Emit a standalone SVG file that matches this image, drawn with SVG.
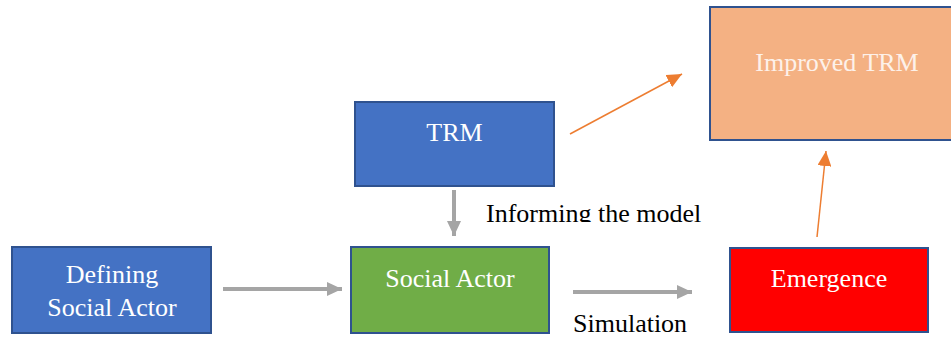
<svg xmlns="http://www.w3.org/2000/svg" width="951" height="337" viewBox="0 0 951 337">
<style>
.box{stroke:#2f528f;stroke-width:2}
.t{font-family:'Liberation Serif','Times New Roman',Times,'DejaVu Serif',serif;font-size:26px;fill:#ffffff;text-anchor:middle}
.lbl{font-family:'Liberation Serif','Times New Roman',Times,'DejaVu Serif',serif;font-size:26px;fill:#000000}
.gray{stroke:#a5a5a5;stroke-width:4;fill:none}
.orange{stroke:#ed7d31;stroke-width:1.5;fill:none}
</style>
<defs>
<marker id="ga" markerUnits="userSpaceOnUse" markerWidth="16" markerHeight="16" refX="15" refY="8" orient="auto">
<path d="M0,1 L15,8 L0,15 Z" fill="#a5a5a5"/>
</marker>
<marker id="oa" markerUnits="userSpaceOnUse" markerWidth="16" markerHeight="14" refX="15" refY="7" orient="auto">
<path d="M0,0 L15,7 L0,14 Z" fill="#ed7d31"/>
</marker>
<clipPath id="clipInf"><rect x="480" y="190" width="240" height="32"/></clipPath>
</defs>
<rect width="951" height="337" fill="#ffffff"/>
<g id="connectors">
<line class="gray" x1="223" y1="289" x2="342" y2="289" marker-end="url(#ga)"/>
<line class="gray" x1="454" y1="190" x2="454" y2="236" marker-end="url(#ga)"/>
<line class="gray" x1="573" y1="292" x2="692" y2="292" marker-end="url(#ga)"/>
<line class="orange" x1="570" y1="134" x2="682" y2="74" marker-end="url(#oa)"/>
<line class="orange" x1="817" y1="237" x2="826" y2="151" marker-end="url(#oa)"/>
<text class="lbl" x="486" y="222" clip-path="url(#clipInf)">Informing the model</text>
<text class="lbl" x="573" y="332">Simulation</text>
</g>
<g id="node-defining">
<rect class="box" x="12" y="247" width="199" height="86" fill="#4472c4"/>
<text class="t" x="112" y="283">Defining</text>
<text class="t" x="112" y="316">Social Actor</text>
</g>
<g id="node-trm">
<rect class="box" x="355" y="102" width="199" height="84" fill="#4472c4"/>
<text class="t" x="454.5" y="141">TRM</text>
</g>
<g id="node-social-actor">
<rect class="box" x="351" y="247" width="198" height="86" fill="#70ad47"/>
<text class="t" x="450" y="287">Social Actor</text>
</g>
<g id="node-emergence">
<rect class="box" x="730" y="248" width="198" height="84" fill="#ff0000"/>
<text class="t" x="829" y="287">Emergence</text>
</g>
<g id="node-improved-trm">
<rect class="box" x="710" y="7" width="254" height="133" fill="#f4b183"/>
<text class="t" x="837" y="71" style="fill:#fdf1ea">Improved TRM</text>
</g>
</svg>
